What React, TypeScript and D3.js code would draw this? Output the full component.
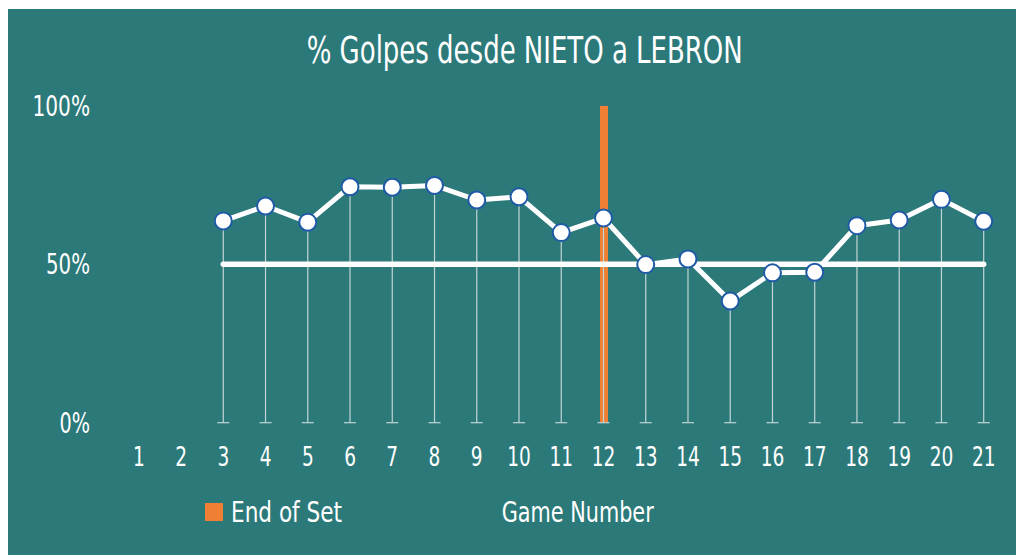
import React from "react";
import * as d3 from "d3";

const games = d3.range(1, 22).map(String);
const dataGames = ["3","4","5","6","7","8","9","10","11","12","13","14","15","16","17","18","19","20","21"];
const pctValues = [63.7, 68.4, 63.3, 74.5, 74.3, 74.9, 70.3, 71.3, 60.0, 64.6, 49.9, 51.7, 38.4, 47.3, 47.5, 62.2, 64.0, 70.5, 63.6];
const yTicks = [0, 50, 100];
const referenceValue = 50;
const endOfSetGames = ["12"];
const title = "% Golpes desde NIETO a LEBRON";
const xTitle = "Game Number";
const legendLabel = "End of Set";

const FONT = "'DejaVu Sans Condensed', 'Liberation Sans Narrow', sans-serif";
const BG = "#2c797a";
const ORANGE = "#ef7f32";
const BLUE = "#1f5aa6";
const DROP = "#c3d4d4";

// approximate condensed-glyph width per character (px per char at given size)
const digitW = 11.8;

export default function App() {
  const x = d3.scalePoint<string>().domain(games).range([138.8, 983.7]);
  const y = d3.scaleLinear().domain([0, 100]).range([422.7, 105.9]);
  const pts = dataGames.map((g, i) => ({ g, v: pctValues[i] }));
  const line = d3
    .line<{ g: string; v: number }>()
    .x((d) => x(d.g) as number)
    .y((d) => y(d.v));
  const refStart = x(dataGames[0]) as number;
  const refEnd = x(dataGames[dataGames.length - 1]) as number;

  return (
    <svg
      width={1016}
      height={555}
      style={{ position: "absolute", left: 0, top: 0, display: "block" }}
      fontFamily={FONT}
    >
      <rect x={8} y={9} width={1008} height={546} fill={BG} />
      <text x={306.7} y={62.7} fill="#fff" fontSize={37} textLength={436} lengthAdjust="spacingAndGlyphs">
        {title}
      </text>
      {yTicks.map((t) => {
        const s = `${t}%`;
        const w = (s.length - 1) * 13.5 + 17;
        return (
          <text key={t} x={90 - w} y={y(t)} dy="0.36em" fill="#fff" fontSize={28} textLength={w} lengthAdjust="spacingAndGlyphs">
            {s}
          </text>
        );
      })}
      {games.map((g) => {
        const w = g.length * digitW;
        return (
          <text key={g} x={(x(g) as number) - w / 2} y={466} fill="#fff" fontSize={27} textLength={w} lengthAdjust="spacingAndGlyphs">
            {g}
          </text>
        );
      })}
      {endOfSetGames.map((g) => (
        <rect key={g} x={(x(g) as number) - 3.5} y={y(100)} width={8} height={y(0) - y(100)} fill={ORANGE} />
      ))}
      {pts.map((d) => {
        const cx = x(d.g) as number;
        return (
          <g key={d.g}>
            <line x1={cx} x2={cx} y1={y(d.v)} y2={y(0)} stroke={DROP} strokeWidth={1.2} />
            <line x1={cx - 6} x2={cx + 6} y1={y(0)} y2={y(0)} stroke={DROP} strokeWidth={1.2} />
          </g>
        );
      })}
      <line
        x1={refStart}
        x2={refEnd}
        y1={y(referenceValue)}
        y2={y(referenceValue)}
        stroke="#fff"
        strokeWidth={5.5}
        strokeLinecap="round"
      />
      <path d={line(pts) as string} fill="none" stroke="#fff" strokeWidth={5} strokeLinejoin="round" />
      {pts.map((d) => (
        <circle key={d.g} cx={x(d.g) as number} cy={y(d.v)} r={8.5} fill="#fff" stroke={BLUE} strokeWidth={2} />
      ))}
      <rect x={205} y={503} width={18} height={18} fill={ORANGE} />
      <text x={231} y={521.7} fill="#fff" fontSize={28} textLength={111} lengthAdjust="spacingAndGlyphs">
        {legendLabel}
      </text>
      <text x={501.7} y={521.7} fill="#fff" fontSize={28} textLength={152} lengthAdjust="spacingAndGlyphs">
        {xTitle}
      </text>
    </svg>
  );
}
